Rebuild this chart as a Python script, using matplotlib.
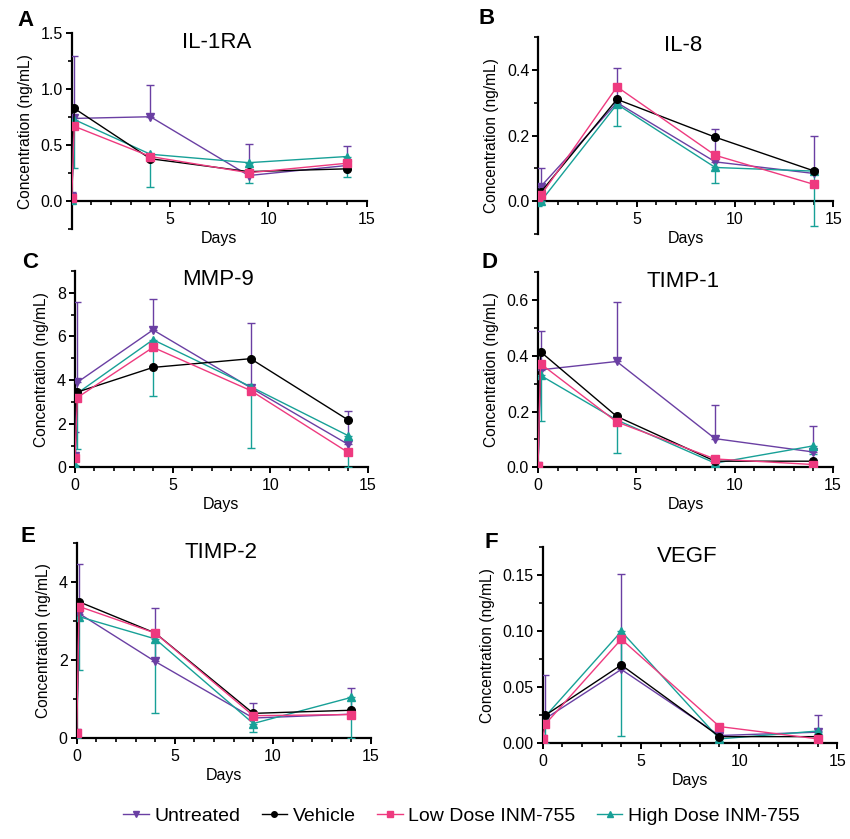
import matplotlib
matplotlib.use('Agg')
import matplotlib.pyplot as plt
from matplotlib.ticker import MultipleLocator
from matplotlib.lines import Line2D

plt.rcParams['font.family'] = ['Liberation Sans', 'DejaVu Sans']

# sampling days (second point is a few hours after dosing)
days = [0, 0.125, 4, 9, 14]

groups = ['Untreated', 'Vehicle', 'Low Dose INM-755', 'High Dose INM-755']

# IL-1RA
il1ra_untreated = [0.04, 0.74, 0.755, 0.23, 0.32]
il1ra_untreated_err = [0.04, 0.56, 0.285, 0.28, 0.17]
il1ra_vehicle = [0.03, 0.83, 0.38, 0.265, 0.29]
il1ra_low = [0.03, 0.67, 0.40, 0.255, 0.34]
il1ra_high = [0.01, 0.73, 0.42, 0.345, 0.40]
il1ra_high_err = [0.01, 0.43, 0.29, 0.185, 0.18]

# IL-8
il8_untreated = [0.02, 0.045, 0.30, 0.12, 0.085]
il8_untreated_err = [0.0, 0.055, 0.105, 0.10, 0.115]
il8_vehicle = [0.013, 0.028, 0.31, 0.195, 0.093]
il8_low = [0.012, 0.018, 0.348, 0.14, 0.052]
il8_high = [0.0, 0.0, 0.295, 0.103, 0.092]
il8_high_err = [0.015, 0.0, 0.065, 0.048, 0.167]

# MMP-9
mmp9_untreated = [0.5, 3.9, 6.3, 3.65, 1.05]
mmp9_untreated_err = [1.1, 3.7, 1.4, 2.98, 1.52]
mmp9_vehicle = [0.45, 3.45, 4.58, 4.98, 2.17]
mmp9_low = [0.45, 3.2, 5.5, 3.52, 0.68]
mmp9_high = [0.1, 3.4, 5.85, 3.7, 1.45]
mmp9_high_err = [0.1, 2.55, 2.6, 2.83, 1.45]

# TIMP-1
timp1_untreated = [0.005, 0.35, 0.38, 0.103, 0.055]
timp1_untreated_err = [0.0, 0.14, 0.215, 0.12, 0.093]
timp1_vehicle = [0.005, 0.415, 0.183, 0.022, 0.022]
timp1_low = [0.005, 0.372, 0.163, 0.03, 0.01]
timp1_high = [0.005, 0.33, 0.17, 0.015, 0.077]
timp1_high_err = [0.0, 0.165, 0.12, 0.01, 0.03]

# TIMP-2
timp2_untreated = [0.13, 3.2, 1.97, 0.52, 0.62]
timp2_untreated_err = [0.09, 1.28, 1.38, 0.38, 0.66]
timp2_vehicle = [0.13, 3.5, 2.7, 0.64, 0.72]
timp2_low = [0.13, 3.38, 2.7, 0.58, 0.61]
timp2_high = [0.05, 3.12, 2.55, 0.38, 1.05]
timp2_high_err = [0.05, 1.37, 1.9, 0.23, 1.05]

# VEGF
vegf_untreated = [0.004, 0.022, 0.066, 0.007, 0.010]
vegf_untreated_err = [0.0, 0.039, 0.085, 0.004, 0.015]
vegf_vehicle = [0.004, 0.025, 0.070, 0.006, 0.006]
vegf_low = [0.004, 0.017, 0.093, 0.015, 0.004]
vegf_high = [0.004, 0.024, 0.100, 0.004, 0.011]
vegf_high_err = [0.004, 0.024, 0.093, 0.002, 0.005]

colors = ['#6a3fa3', '#000000', '#ee3a7f', '#17a097']
markers = ['v', 'o', 's', '^']

panels = [
    # letter, title, data, ylim, major, minor, axes rect, zero-crossing x axis
    ('A', 'IL-1RA', (il1ra_untreated, il1ra_untreated_err, il1ra_vehicle, il1ra_low, il1ra_high, il1ra_high_err),
     (-0.25, 1.5), 0.5, 0.25, [0.0844, 0.7267, 0.347, 0.2336], True),
    ('B', 'IL-8', (il8_untreated, il8_untreated_err, il8_vehicle, il8_low, il8_high, il8_high_err),
     (-0.1, 0.5), 0.2, 0.1, [0.6333, 0.7207, 0.347, 0.2355], True),
    ('C', 'MMP-9', (mmp9_untreated, mmp9_untreated_err, mmp9_vehicle, mmp9_low, mmp9_high, mmp9_high_err),
     (0, 9), 2, 1, [0.0882, 0.443, 0.3444, 0.234], False),
    ('D', 'TIMP-1', (timp1_untreated, timp1_untreated_err, timp1_vehicle, timp1_low, timp1_high, timp1_high_err),
     (0, 0.7), 0.2, 0.1, [0.633, 0.443, 0.347, 0.2324], False),
    ('E', 'TIMP-2', (timp2_untreated, timp2_untreated_err, timp2_vehicle, timp2_low, timp2_high, timp2_high_err),
     (0, 5), 2, 1, [0.0902, 0.12, 0.3463, 0.2324], False),
    ('F', 'VEGF', (vegf_untreated, vegf_untreated_err, vegf_vehicle, vegf_low, vegf_high, vegf_high_err),
     (0, 0.175), 0.05, 0.025, [0.6385, 0.114, 0.3466, 0.2336], False),
]

letter_pos = {'A': (25, 20), 'B': (487, 18), 'C': (30, 262), 'D': (490, 263),
              'E': (28, 537), 'F': (491, 542)}

fig = plt.figure(figsize=(8.5, 8.39), dpi=100)

for letter, title, data, ylim, major, minor, rect, cross in panels:
    unt, unt_err, veh, low, high, high_err = data
    ax = fig.add_axes(rect)
    zeros = [0] * len(days)
    # untreated: upper error bars
    ax.errorbar(days, unt, yerr=[zeros, unt_err], color=colors[0], marker=markers[0],
                ms=5.5, lw=1, elinewidth=1, capsize=3, capthick=1, zorder=3)
    ax.plot(days, veh, color=colors[1], marker=markers[1], ms=5.5, lw=1, zorder=4)
    ax.plot(days, low, color=colors[2], marker=markers[2], ms=5.5, lw=1, zorder=4)
    # high dose: lower error bars
    ax.errorbar(days, high, yerr=[high_err, zeros], color=colors[3], marker=markers[3],
                ms=5.5, lw=1, elinewidth=1, capsize=3, capthick=1, zorder=3)

    ax.set_xlim(0, 15)
    ax.set_ylim(*ylim)
    ax.spines['top'].set_visible(False)
    ax.spines['right'].set_visible(False)
    for s in ['left', 'bottom']:
        ax.spines[s].set_linewidth(1.6)
    if cross:
        ax.spines['bottom'].set_position(('data', 0))
        ax.set_xticks([5, 10, 15])
    else:
        ax.set_xticks([0, 5, 10, 15])
    ax.xaxis.set_minor_locator(MultipleLocator(1))
    ax.yaxis.set_major_locator(MultipleLocator(major))
    ax.yaxis.set_minor_locator(MultipleLocator(minor))
    if letter == 'F':
        ax.set_yticks([0, 0.05, 0.10, 0.15])
        ax.set_yticklabels(['0.00', '0.05', '0.10', '0.15'])
    elif letter == 'A':
        ax.set_yticks([0, 0.5, 1.0, 1.5])
        ax.set_yticklabels(['0.0', '0.5', '1.0', '1.5'])
    elif letter in ('B', 'D'):
        ticks = [0, 0.2, 0.4] if letter == 'B' else [0, 0.2, 0.4, 0.6]
        ax.set_yticks(ticks)
        ax.set_yticklabels(['%.1f' % t for t in ticks])
    ax.tick_params(which='major', length=4.5, width=1.4, labelsize=11.5)
    ax.tick_params(which='minor', length=2.8, width=1.2)
    ax.tick_params(axis='y', which='major', pad=2)
    ax.tick_params(axis='x', which='major', pad=3)
    ax.set_xlabel('Days', fontsize=11.5, labelpad=3)
    ax.set_ylabel('Concentration (ng/mL)', fontsize=11.2, labelpad=5.5)
    ax.text(0.49, 0.955, title, transform=ax.transAxes, ha='center', va='center', fontsize=16)
    lx, ly = letter_pos[letter]
    fig.text(lx / 850, 1 - ly / 839, letter, ha='center', va='center',
             fontsize=16, fontweight='bold')

handles = [Line2D([0], [0], color=c, marker=m, ms=4, lw=1) for c, m in zip(colors, markers)]
fig.legend(handles, groups, loc='center', bbox_to_anchor=(0.543, 1 - 816 / 839), ncol=4,
           frameon=False, fontsize=14, handlelength=1.3, handletextpad=0.3, columnspacing=1.1)

fig.savefig('out.png', dpi=100)
